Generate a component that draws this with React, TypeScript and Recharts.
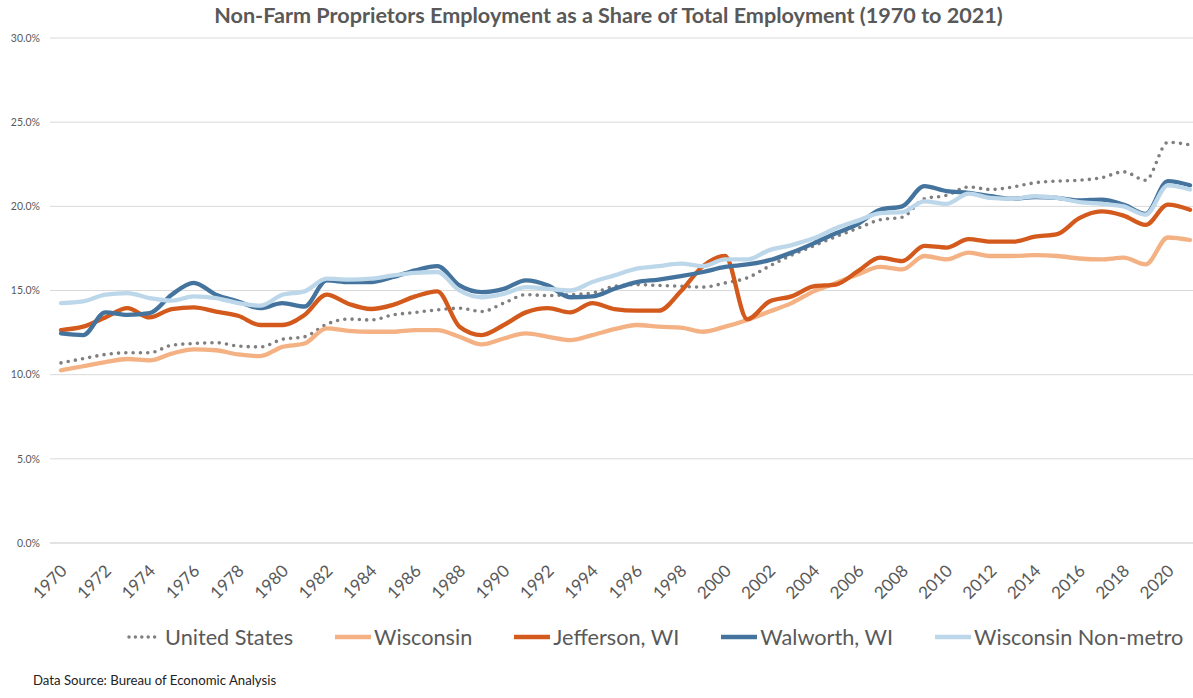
import React from "react";
import { LineChart, Line, XAxis, YAxis, CartesianGrid, Legend } from "recharts";

const years = [
  1970, 1971, 1972, 1973, 1974, 1975, 1976, 1977, 1978, 1979,
  1980, 1981, 1982, 1983, 1984, 1985, 1986, 1987, 1988, 1989,
  1990, 1991, 1992, 1993, 1994, 1995, 1996, 1997, 1998, 1999,
  2000, 2001, 2002, 2003, 2004, 2005, 2006, 2007, 2008, 2009,
  2010, 2011, 2012, 2013, 2014, 2015, 2016, 2017, 2018, 2019,
  2020, 2021,
];

const unitedStates = [
  10.7, 10.95, 11.2, 11.3, 11.3, 11.75, 11.85, 11.9, 11.7, 11.65,
  12.1, 12.25, 13.0, 13.3, 13.25, 13.55, 13.7, 13.85, 13.95, 13.75,
  14.25, 14.75, 14.7, 14.75, 14.85, 15.25, 15.35, 15.3, 15.25, 15.2,
  15.45, 15.75, 16.45, 17.1, 17.65, 18.2, 18.7, 19.2, 19.35, 20.45,
  20.65, 21.15, 21.0, 21.15, 21.4, 21.5, 21.55, 21.7, 22.05, 21.55,
  23.8, 23.65,
];

const wisconsin = [
  10.26, 10.5, 10.75, 10.93, 10.85, 11.25, 11.5, 11.45, 11.2, 11.1,
  11.65, 11.85, 12.75, 12.6, 12.55, 12.55, 12.65, 12.65, 12.25, 11.8,
  12.15, 12.45, 12.25, 12.05, 12.35, 12.7, 12.95, 12.85, 12.8, 12.55,
  12.85, 13.25, 13.75, 14.25, 14.95, 15.45, 15.95, 16.4, 16.25, 17.05,
  16.85, 17.25, 17.05, 17.05, 17.1, 17.05, 16.9, 16.85, 16.95, 16.55,
  18.15, 18.0,
];

const jefferson = [
  12.65, 12.85, 13.4, 13.95, 13.4, 13.9, 14.0, 13.75, 13.5, 12.95,
  12.95, 13.55, 14.75, 14.2, 13.9, 14.15, 14.65, 14.95, 12.85, 12.35,
  12.95, 13.7, 13.95, 13.7, 14.25, 13.9, 13.8, 13.8, 14.95, 16.45,
  17.05, 13.3, 14.35, 14.65, 15.25, 15.35, 16.15, 16.95, 16.75, 17.65,
  17.55, 18.05, 17.9, 17.9, 18.2, 18.35, 19.3, 19.7, 19.45, 18.9,
  20.1, 19.8,
];

const walworth = [
  12.45, 12.35, 13.7, 13.55, 13.65, 14.75, 15.45, 14.75, 14.35, 13.95,
  14.25, 14.05, 15.6, 15.5, 15.5, 15.8, 16.2, 16.45, 15.3, 14.9,
  15.1, 15.6, 15.3, 14.6, 14.65, 15.1, 15.5, 15.65, 15.85, 16.1,
  16.4, 16.55, 16.8, 17.25, 17.8, 18.4, 18.95, 19.8, 20.0, 21.2,
  20.9, 20.8, 20.6, 20.45, 20.55, 20.5, 20.35, 20.4, 20.1, 19.55,
  21.5, 21.25,
];

const nonMetro = [
  14.25, 14.35, 14.75, 14.85, 14.55, 14.4, 14.65, 14.55, 14.25, 14.1,
  14.75, 14.95, 15.7, 15.65, 15.7, 15.9, 16.05, 16.1, 15.0, 14.6,
  14.8, 15.2, 15.1, 15.0, 15.5, 15.9, 16.3, 16.45, 16.6, 16.45,
  16.85, 16.85, 17.4, 17.7, 18.1, 18.7, 19.15, 19.6, 19.65, 20.3,
  20.15, 20.75, 20.5, 20.45, 20.6, 20.5, 20.25, 20.15, 20.0, 19.5,
  21.25, 21.0,
];

const yTicks = [0, 5, 10, 15, 20, 25, 30];

const seriesNames = [
  "United States",
  "Wisconsin",
  "Jefferson, WI",
  "Walworth, WI",
  "Wisconsin Non-metro",
];

const series = [
  { key: "us", name: seriesNames[0], color: "#7f7f7f", dotted: true },
  { key: "wi", name: seriesNames[1], color: "#f4b183", dotted: false },
  { key: "jef", name: seriesNames[2], color: "#d35a1c", dotted: false },
  { key: "wal", name: seriesNames[3], color: "#44749d", dotted: false },
  { key: "nm", name: seriesNames[4], color: "#bdd7ea", dotted: false },
];

const data = years.map((y, i) => ({
  year: String(y),
  us: unitedStates[i],
  wi: wisconsin[i],
  jef: jefferson[i],
  wal: walworth[i],
  nm: nonMetro[i],
}));

const FONT = "Lato, 'Open Sans', sans-serif";
const TEXT = "#595959";

const XTick = (props: any) => {
  const { x, y, payload } = props;
  const ax = x + 7;
  const ay = y + 21;
  return (
    <text
      x={ax}
      y={ay}
      textAnchor="end"
      transform={`rotate(-45, ${ax}, ${ay})`}
      fontFamily={FONT}
      fontSize={17}
      fill={TEXT}
    >
      {payload.value}
    </text>
  );
};

const LegendContent = () => (
  <div
    style={{
      display: "flex",
      flexWrap: "nowrap",
      justifyContent: "flex-start",
      alignItems: "center",
      height: 30,
      width: 1193,
      boxSizing: "border-box",
      fontFamily: FONT,
      fontSize: 21.7,
      color: TEXT,
      paddingLeft: 126,
      whiteSpace: "nowrap",
    }}
  >
    {series.map((s) => (
      <div
        key={s.key}
        style={{
          display: "flex",
          alignItems: "center",
          marginRight: 42,
          flexShrink: 0,
          whiteSpace: "nowrap",
        }}
      >
        <svg width={36} height={10} style={{ marginRight: 3, flexShrink: 0 }}>
          {s.dotted ? (
            <line
              x1={3}
              y1={5}
              x2={35}
              y2={5}
              stroke={s.color}
              strokeWidth={3.5}
              strokeDasharray="0 6.4"
              strokeLinecap="round"
            />
          ) : (
            <line x1={0} y1={5} x2={36} y2={5} stroke={s.color} strokeWidth={4.5} />
          )}
        </svg>
        <span style={{ whiteSpace: "nowrap" }}>{s.name}</span>
      </div>
    ))}
  </div>
);

export default function App() {
  return (
    <div
      style={{
        position: "absolute",
        left: 0,
        top: 0,
        width: 1193,
        height: 698,
        background: "#ffffff",
        overflow: "hidden",
      }}
    >
      <div
        style={{
          position: "absolute",
          left: 12,
          top: 2,
          width: 1193,
          textAlign: "center",
          fontFamily: FONT,
          fontWeight: 700,
          fontSize: 21.6,
          color: TEXT,
        }}
      >
        Non-Farm Proprietors Employment as a Share of Total Employment (1970 to 2021)
      </div>
      <LineChart
        width={1193}
        height={698}
        data={data}
        margin={{ top: 38, right: 0, bottom: 65, left: 0 }}
      >
        <CartesianGrid vertical={false} stroke="#d9d9d9" strokeWidth={1} />
        <XAxis
          dataKey="year"
          interval={1}
          tick={<XTick />}
          tickLine={false}
          axisLine={{ stroke: "#d9d9d9" }}
          height={60}
          padding={{ left: 11, right: 3 }}
        />
        <YAxis
          width={50}
          domain={[0, 30]}
          ticks={yTicks}
          tickFormatter={(v: number) => `${v.toFixed(1)}%`}
          tick={{ fontSize: 10.5, fill: TEXT, fontFamily: FONT }}
          tickLine={false}
          axisLine={false}
          tickMargin={4}
        />
        <Legend
          verticalAlign="bottom"
          content={<LegendContent />}
          wrapperStyle={{ top: 622, bottom: "auto", left: 0, width: 1193 }}
        />
        {series.map((s) => (
          <Line
            key={s.key}
            type="monotone"
            dataKey={s.key}
            name={s.name}
            stroke={s.color}
            strokeWidth={s.dotted ? 3.6 : 4.3}
            strokeDasharray={s.dotted ? "0 7.3" : undefined}
            strokeLinecap="round"
            dot={false}
            activeDot={false}
            isAnimationActive={false}
          />
        ))}
      </LineChart>
      <div
        style={{
          position: "absolute",
          left: 33,
          top: 672,
          fontFamily: FONT,
          fontSize: 13.2,
          color: "#222",
        }}
      >
        Data Source: Bureau of Economic Analysis
      </div>
    </div>
  );
}
